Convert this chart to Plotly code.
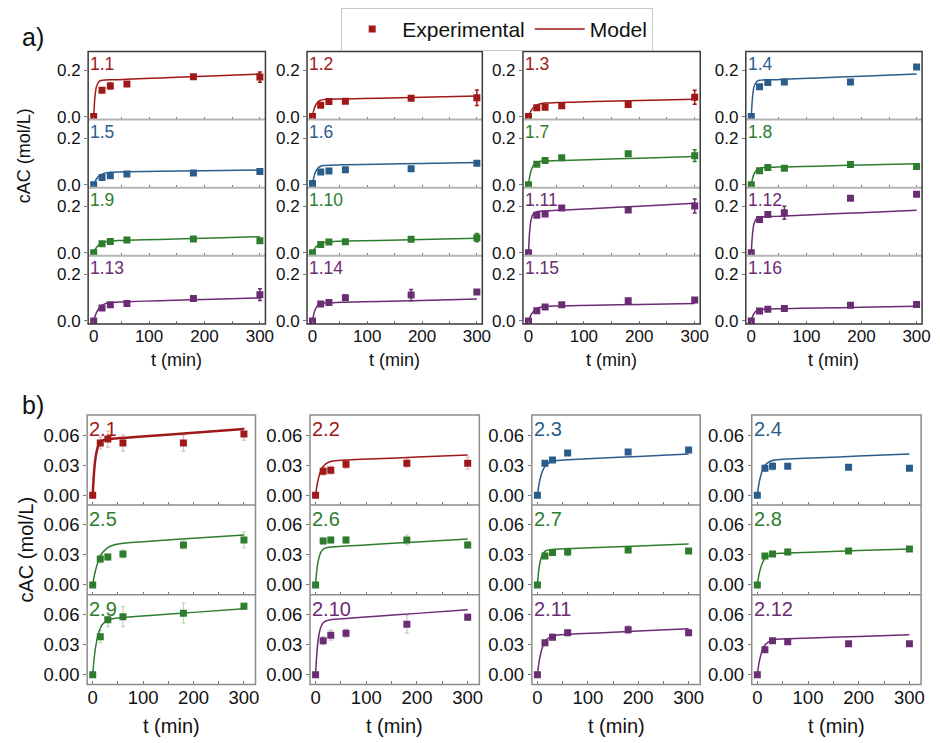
import plotly.graph_objects as go

# ---------------- data ----------------
T_EXP = [0, 15, 30, 60, 180, 300]
T_MODEL = [0, 2, 5, 10, 15, 20, 30, 45, 60, 120, 200, 300]

RED, BLUE, GREEN, PURPLE = "#A01818", "#2A5D8C", "#2E7D2E", "#6A2C72"

LABELS_A = ["1.1", "1.2", "1.3", "1.4", "1.5", "1.6", "1.7", "1.8",
            "1.9", "1.10", "1.11", "1.12", "1.13", "1.14", "1.15", "1.16"]
COLORS_A = [RED, RED, RED, BLUE, BLUE, BLUE, GREEN, GREEN,
            GREEN, GREEN, PURPLE, PURPLE, PURPLE, PURPLE, PURPLE, PURPLE]
EXP_A = [
    [0, 0.113, 0.132, 0.140, 0.171, 0.170],
    [0, 0.049, 0.065, 0.066, 0.079, 0.081],
    [0, 0.038, 0.040, 0.047, 0.052, 0.083],
    [0, 0.128, 0.147, 0.149, 0.149, 0.213],
    [0, 0.031, 0.038, 0.046, 0.050, 0.057],
    [0.005, 0.055, 0.059, 0.064, 0.069, 0.092],
    [0, 0.088, 0.104, 0.116, 0.133, 0.125],
    [0, 0.060, 0.074, 0.071, 0.087, 0.078],
    [0, 0.039, 0.049, 0.055, 0.059, 0.052],
    [0, 0.036, 0.046, 0.048, 0.058, 0.065],
    [0, 0.162, 0.167, 0.193, 0.184, 0.201],
    [0, 0.143, 0.165, 0.172, 0.235, 0.252],
    [0, 0.055, 0.070, 0.075, 0.096, 0.113],
    [0, 0.073, 0.079, 0.100, 0.111, 0.124],
    [0, 0.044, 0.060, 0.069, 0.087, 0.090],
    [0, 0.043, 0.050, 0.053, 0.067, 0.071],
]
ERR_A = [
    [0, 0.006, 0.012, 0.005, 0.006, 0.022],
    [0, 0.004, 0.004, 0.004, 0.004, 0.033],
    [0, 0.004, 0.004, 0.003, 0.004, 0.030],
    [0, 0.004, 0.010, 0.005, 0.004, 0.004],
    [0, 0.003, 0.004, 0.003, 0.003, 0.003],
    [0, 0.003, 0.003, 0.003, 0.004, 0.006],
    [0, 0.005, 0.008, 0.004, 0.008, 0.025],
    [0, 0.004, 0.004, 0.004, 0.005, 0.004],
    [0, 0.004, 0.004, 0.004, 0.004, 0.004],
    [0, 0.003, 0.003, 0.003, 0.004, 0.018],
    [0, 0.006, 0.005, 0.004, 0.005, 0.030],
    [0, 0.006, 0.004, 0.028, 0.004, 0.006],
    [0, 0.004, 0.004, 0.004, 0.005, 0.025],
    [0, 0.004, 0.004, 0.010, 0.024, 0.005],
    [0, 0.004, 0.004, 0.004, 0.004, 0.004],
    [0, 0.003, 0.003, 0.003, 0.003, 0.008],
]
MODEL_A = [
    [0, 0.078, 0.129, 0.151, 0.156, 0.157, 0.158, 0.159, 0.161, 0.166, 0.174, 0.183],
    [0, 0.024, 0.046, 0.064, 0.070, 0.073, 0.0745, 0.0754, 0.0762, 0.0794, 0.0837, 0.089],
    [0, 0.0125, 0.0265, 0.041, 0.049, 0.054, 0.058, 0.060, 0.061, 0.065, 0.069, 0.075],
    [0, 0.078, 0.129, 0.151, 0.156, 0.157, 0.158, 0.159, 0.161, 0.166, 0.174, 0.183],
    [0, 0.0115, 0.0245, 0.038, 0.0456, 0.0497, 0.0534, 0.0551, 0.0558, 0.0576, 0.060, 0.063],
    [0, 0.0274, 0.0527, 0.0722, 0.0796, 0.0824, 0.0841, 0.085, 0.0856, 0.0882, 0.0917, 0.096],
    [0, 0.033, 0.0636, 0.0872, 0.096, 0.0996, 0.1019, 0.1032, 0.1042, 0.1084, 0.114, 0.121],
    [0, 0.0241, 0.0464, 0.0637, 0.0703, 0.0728, 0.0746, 0.0756, 0.0764, 0.0798, 0.0843, 0.090],
    [0, 0.0107, 0.0229, 0.0356, 0.0428, 0.0468, 0.0506, 0.0527, 0.0538, 0.0576, 0.0627, 0.069],
    [0, 0.010, 0.0215, 0.0334, 0.040, 0.0438, 0.0473, 0.0492, 0.0502, 0.0534, 0.0577, 0.063],
    [0, 0.0887, 0.146, 0.1719, 0.177, 0.1785, 0.1797, 0.1816, 0.1834, 0.1908, 0.2007, 0.213],
    [0, 0.0767, 0.1261, 0.1484, 0.1528, 0.1541, 0.1551, 0.1567, 0.1582, 0.1644, 0.1727, 0.183],
    [0, 0.0169, 0.0359, 0.0559, 0.067, 0.0731, 0.0789, 0.0816, 0.0829, 0.087, 0.0923, 0.099],
    [0, 0.0255, 0.049, 0.0672, 0.0741, 0.0767, 0.0785, 0.0796, 0.0804, 0.0838, 0.0883, 0.094],
    [0, 0.0133, 0.0282, 0.0437, 0.0525, 0.0573, 0.0616, 0.0637, 0.0646, 0.0672, 0.0707, 0.075],
    [0, 0.0166, 0.0318, 0.0437, 0.0482, 0.050, 0.0512, 0.052, 0.0526, 0.0552, 0.0587, 0.063],
]

LABELS_B = ["2.1", "2.2", "2.3", "2.4", "2.5", "2.6", "2.7", "2.8",
            "2.9", "2.10", "2.11", "2.12"]
COLORS_B = [RED, RED, BLUE, BLUE, GREEN, GREEN, GREEN, GREEN,
            GREEN, PURPLE, PURPLE, PURPLE]
EXP_B = [
    [0, 0.052, 0.056, 0.052, 0.052, 0.061],
    [0, 0.024, 0.025, 0.031, 0.032, 0.032],
    [0, 0.032, 0.035, 0.042, 0.043, 0.045],
    [0, 0.027, 0.029, 0.029, 0.028, 0.027],
    [0, 0.026, 0.028, 0.031, 0.040, 0.045],
    [0, 0.044, 0.045, 0.045, 0.045, 0.040],
    [0, 0.029, 0.0325, 0.033, 0.035, 0.034],
    [0, 0.029, 0.031, 0.033, 0.034, 0.036],
    [0, 0.038, 0.055, 0.058, 0.0615, 0.0685],
    [0, 0.034, 0.0395, 0.0415, 0.0505, 0.0575],
    [0, 0.032, 0.0375, 0.042, 0.045, 0.042],
    [0, 0.025, 0.034, 0.033, 0.031, 0.031],
]
ERR_B = [
    [0, 0.006, 0.008, 0.008, 0.008, 0.006],
    [0, 0.004, 0.004, 0.004, 0.004, 0.006],
    [0, 0.002, 0.002, 0.002, 0.002, 0.002],
    [0, 0.003, 0.004, 0.002, 0.002, 0.002],
    [0, 0.004, 0.003, 0.004, 0.004, 0.008],
    [0, 0.003, 0.003, 0.003, 0.005, 0.003],
    [0, 0.003, 0.003, 0.004, 0.003, 0.002],
    [0, 0.002, 0.002, 0.003, 0.002, 0.002],
    [0, 0.006, 0.007, 0.010, 0.010, 0.003],
    [0, 0.004, 0.005, 0.004, 0.009, 0.003],
    [0, 0.003, 0.003, 0.003, 0.004, 0.003],
    [0, 0.002, 0.002, 0.002, 0.002, 0.002],
]
MODEL_B = [
    [0, 0.0182, 0.035, 0.048, 0.0529, 0.0547, 0.056, 0.0567, 0.0572, 0.0594, 0.0623, 0.066],
    [0, 0.0072, 0.0154, 0.024, 0.0287, 0.0313, 0.0337, 0.0347, 0.0352, 0.0364, 0.038, 0.040],
    [0, 0.0072, 0.0154, 0.024, 0.0288, 0.0314, 0.0338, 0.0349, 0.0354, 0.0368, 0.0387, 0.041],
    [0, 0.0075, 0.0159, 0.0247, 0.0295, 0.0322, 0.0347, 0.0357, 0.0362, 0.0374, 0.039, 0.041],
    [0, 0.006, 0.0134, 0.0223, 0.0285, 0.0326, 0.0374, 0.0404, 0.0417, 0.044, 0.0467, 0.050],
    [0, 0.0123, 0.0236, 0.0323, 0.0357, 0.0369, 0.0378, 0.0384, 0.0388, 0.0406, 0.043, 0.046],
    [0, 0.0116, 0.0222, 0.0305, 0.0336, 0.0348, 0.0355, 0.0359, 0.0362, 0.0374, 0.039, 0.041],
    [0, 0.0066, 0.0141, 0.0219, 0.0262, 0.0285, 0.0307, 0.0316, 0.032, 0.033, 0.0343, 0.036],
    [0, 0.0118, 0.025, 0.0388, 0.0465, 0.0507, 0.0546, 0.0564, 0.0572, 0.0594, 0.0623, 0.066],
    [0, 0.0179, 0.0343, 0.0471, 0.0519, 0.0537, 0.055, 0.0557, 0.0562, 0.0584, 0.0613, 0.065],
    [0, 0.0083, 0.0177, 0.0275, 0.033, 0.036, 0.0386, 0.0399, 0.0404, 0.0418, 0.0437, 0.046],
    [0, 0.0075, 0.0159, 0.0247, 0.0295, 0.0321, 0.0346, 0.0356, 0.036, 0.037, 0.0383, 0.040],
]

X_TICKS = [0, 50, 100, 150, 200, 250, 300]
X_TICKTEXT = ["0", "", "100", "", "200", "", "300"]
YA_TICKS, YA_TEXT = [0, 0.2], ["0.0", "0.2"]
YB_TICKS, YB_TEXT = [0, 0.03, 0.06], ["0.00", "0.03", "0.06"]

# ---------------- layout geometry (pixels) ----------------
W, H = 940, 743
FONT = "Arial, Liberation Sans, sans-serif"
A_COLS = [(89, 268), (310, 487), (528, 707), (753, 931)]
A_ROWS = [(52, 120.75), (120.75, 189.5), (189.5, 258.25), (258.25, 327)]
B_COLS = [(88, 258), (313, 484), (537, 707), (759, 930)]
B_ROWS = [(419, 509.7), (509.7, 600.3), (600.3, 691)]


def px(x):
    return x / W


def py(y):
    return 1 - y / H


def rgba(hexc, a):
    h = hexc.lstrip("#")
    return "rgba(%d,%d,%d,%.2f)" % (int(h[0:2], 16), int(h[2:4], 16), int(h[4:6], 16), a)


fig = go.Figure()
layout = {}
annotations = []
shapes = []

panels = []
for i in range(16):
    panels.append(dict(part="a", row=i // 4, col=i % 4, label=LABELS_A[i], color=COLORS_A[i],
                       exp=EXP_A[i], err=ERR_A[i], model=MODEL_A[i]))
for i in range(12):
    panels.append(dict(part="b", row=i // 4, col=i % 4, label=LABELS_B[i], color=COLORS_B[i],
                       exp=EXP_B[i], err=ERR_B[i], model=MODEL_B[i]))

for k, p in enumerate(panels):
    n = k + 1
    xs = "" if n == 1 else str(n)
    if p["part"] == "a":
        cx, ry = A_COLS[p["col"]], A_ROWS[p["row"]]
        bottom = p["row"] == 3
        xr, yr = [-10, 310], [-0.013, 0.28]
        yt, ytt = YA_TICKS, YA_TEXT
        tfs, lfs = 17, 17.5
        errc, errw = p["color"], 1.5
        lw = 1.5
    else:
        cx, ry = B_COLS[p["col"]], B_ROWS[p["row"]]
        bottom = p["row"] == 2
        xr, yr = [-11, 323], [-0.0097, 0.080]
        yt, ytt = YB_TICKS, YB_TEXT
        tfs, lfs = 18.5, 20
        errc, errw = rgba(p["color"], 0.3), 1.2
        lw = 2.5 if p["label"] == "2.1" else 1.5
    layout["xaxis" + xs] = dict(
        domain=[px(cx[0]), px(cx[1])], anchor="y" + xs, range=xr,
        tickmode="array", tickvals=X_TICKS,
        ticktext=X_TICKTEXT if bottom else [""] * len(X_TICKS),
        ticks="inside", ticklen=3, tickcolor="#777", tickwidth=1,
        showgrid=False, zeroline=False, showline=False,
        tickfont=dict(family=FONT, size=tfs, color="#111"),
    )
    layout["yaxis" + xs] = dict(
        domain=[py(ry[1]), py(ry[0])], anchor="x" + xs, range=yr,
        tickmode="array", tickvals=yt, ticktext=ytt,
        ticks="outside", ticklen=3, tickcolor="#777", tickwidth=1,
        showgrid=False, zeroline=False, showline=False,
        tickfont=dict(family=FONT, size=tfs, color="#111"),
    )
    first = (n == 1)
    fig.add_trace(go.Scatter(
        x=T_MODEL, y=p["model"], mode="lines", xaxis="x" + xs, yaxis="y" + xs,
        line=dict(color=p["color"], width=lw, shape="spline", smoothing=0.6),
        name="Model", showlegend=first, legendrank=2,
    ))
    fig.add_trace(go.Scatter(
        x=T_EXP, y=p["exp"], mode="markers", xaxis="x" + xs, yaxis="y" + xs,
        marker=dict(symbol="square", size=7, color=p["color"]),
        error_y=dict(type="data", array=p["err"], visible=True, color=errc,
                     thickness=errw, width=2),
        name="Experimental", showlegend=first, legendrank=1,
    ))
    rh = ry[1] - ry[0]
    off = 12.5 if p["part"] == "a" else 14
    annotations.append(dict(
        text=p["label"], xref="x" + xs + " domain", yref="y" + xs + " domain",
        x=0, xanchor="left", xshift=0, y=1 - off / rh, yanchor="middle",
        showarrow=False, font=dict(family=FONT, size=lfs, color=p["color"]),
    ))

# frames
for (c0, c1) in A_COLS:
    for (r0, r1) in A_ROWS[1:]:
        shapes.append(dict(type="line", xref="paper", yref="paper", x0=px(c0), x1=px(c1),
                           y0=py(r0), y1=py(r0), line=dict(color="#b5b5b5", width=2), layer="above"))
    shapes.append(dict(type="rect", xref="paper", yref="paper", x0=px(c0), x1=px(c1),
                       y0=py(A_ROWS[-1][1]), y1=py(A_ROWS[0][0]),
                       line=dict(color="#3a3a3a", width=1.5), layer="above"))
for (c0, c1) in B_COLS:
    for (r0, r1) in B_ROWS[1:]:
        shapes.append(dict(type="line", xref="paper", yref="paper", x0=px(c0), x1=px(c1),
                           y0=py(r0), y1=py(r0), line=dict(color="#8c8c8c", width=1.5), layer="above"))
    shapes.append(dict(type="rect", xref="paper", yref="paper", x0=px(c0), x1=px(c1),
                       y0=py(B_ROWS[-1][1]), y1=py(B_ROWS[0][0]),
                       line=dict(color="#8c8c8c", width=1.5), layer="above"))

# text labels
annotations.append(dict(text="a)", xref="paper", yref="paper", x=px(33), y=py(37),
                        xanchor="center", yanchor="middle", showarrow=False,
                        font=dict(family=FONT, size=25, color="#111")))
annotations.append(dict(text="b)", xref="paper", yref="paper", x=px(33), y=py(409),
                        xanchor="center", yanchor="middle", showarrow=False,
                        font=dict(family=FONT, size=25, color="#111")))
annotations.append(dict(text="cAC (mol/L)", xref="paper", yref="paper", x=px(24), y=py(157),
                        xanchor="center", yanchor="middle", textangle=-90, showarrow=False,
                        font=dict(family=FONT, size=18, color="#111")))
annotations.append(dict(text="cAC (mol/L)", xref="paper", yref="paper", x=px(26), y=py(555),
                        xanchor="center", yanchor="middle", textangle=-90, showarrow=False,
                        font=dict(family=FONT, size=20, color="#111")))
for (c0, c1) in A_COLS:
    annotations.append(dict(text="t (min)", xref="paper", yref="paper", x=px((c0 + c1) / 2), y=py(363),
                            xanchor="center", yanchor="middle", showarrow=False,
                            font=dict(family=FONT, size=18, color="#111")))
for (c0, c1) in B_COLS:
    annotations.append(dict(text="t (min)", xref="paper", yref="paper", x=px((c0 + c1) / 2), y=py(733),
                            xanchor="center", yanchor="middle", showarrow=False,
                            font=dict(family=FONT, size=20, color="#111")))

fig.update_layout(
    **layout,
    width=W, height=H, autosize=False,
    margin=dict(l=0, r=0, t=0, b=0),
    paper_bgcolor="white", plot_bgcolor="white",
    annotations=annotations, shapes=shapes,
    legend=dict(orientation="h", x=px(502), xanchor="center", y=py(8), yanchor="top",
                bordercolor="#c8c8c8", borderwidth=1, bgcolor="white",
                font=dict(family=FONT, size=21, color="#111"),
                itemwidth=50, traceorder="normal"),
)

fig.write_html("out.html")
